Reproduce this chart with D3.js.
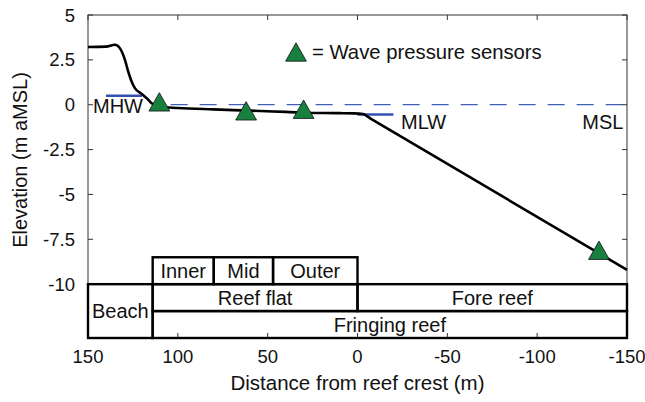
<!DOCTYPE html>
<html lang="en">
<head>
<meta charset="utf-8">
<title>Reef profile</title>
<script src="https://d3js.org/d3.v7.min.js"></script>
<style>
  body { margin: 0; background: #fff; }
  svg text { font-family: "Liberation Sans", Arial, Helvetica, sans-serif; fill: #111; }
</style>
</head>
<body>
<div id="chart"></div>
<script>
// profile (distance from reef crest in m, elevation in m aMSL)
var profileDist = [150, 140, 135, 132.2, 129.4, 127.6, 125.7, 123.8, 120.1, 117.3, 114.6, 110, 100, 80.4, 60, 40, 24.8, 10, 2, -3, -8, -150]
var profileElev = [3.22, 3.24, 3.34, 3.14, 2.49, 1.84, 1.28, 0.91, 0.60, 0.36, 0.08, -0.11, -0.18, -0.26, -0.33, -0.40, -0.46, -0.47, -0.48, -0.52, -0.82, -9.2]

// wave pressure sensors
var sensorDist = [110.3, 62, 30, -134.4]
var sensorElev = [0.16, -0.34, -0.25, -8.11]

// tidal levels
var mhw = {from: 140, to: 120, level: 0.5}
var mlw = {from: 0, to: -20, level: -0.55}
var mslFrom = 104

// zone boxes: [from, to, bottom, top, label]
var zoneFrom  = [114, 80, 47, 150, 114, 0, 114]
var zoneTo    = [80, 47, 0, 114, 0, -150, -150]
var zoneLow   = [-10, -10, -10, -13, -11.5, -11.5, -13]
var zoneHigh  = [-8.5, -8.5, -8.5, -10, -10, -10, -11.5]
var zoneNames = ["Inner", "Mid", "Outer", "Beach", "Reef flat", "Fore reef", "Fringing reef"]

var xTicks = [150, 100, 50, 0, -50, -100, -150]
var yTicks = [5, 2.5, 0, -2.5, -5, -7.5, -10]

var width = 645, height = 402
var svg = d3.select("#chart").append("svg")
    .attr("width", width)
    .attr("height", height)

var x = d3.scaleLinear().domain([150, -150]).range([88, 627])
var y = d3.scaleLinear().domain([-13, 5]).range([338, 15])

// dashed MSL line
svg.append("line")
    .attr("x1", x(mslFrom)).attr("x2", x(-150))
    .attr("y1", y(0)).attr("y2", y(0))
    .attr("stroke", "#3f5fb8").attr("stroke-width", 1.3)
    .attr("stroke-dasharray", "17,12")

// MHW / MLW bars
;[mhw, mlw].forEach(function(t) {
  svg.append("line")
    .attr("x1", x(t.from)).attr("x2", x(t.to))
    .attr("y1", y(t.level)).attr("y2", y(t.level))
    .attr("stroke", "#3550b0").attr("stroke-width", 2.5)
})

// axes box
var ax = svg.append("g").attr("stroke", "#333").attr("stroke-width", 1)
ax.append("rect")
    .attr("x", x(150)).attr("y", y(5))
    .attr("width", x(-150) - x(150)).attr("height", y(-13) - y(5))
    .attr("fill", "none")

var tl = 5
xTicks.forEach(function(t) {
  ax.append("line").attr("x1", x(t)).attr("x2", x(t)).attr("y1", y(5)).attr("y2", y(5) + tl)
  ax.append("line").attr("x1", x(t)).attr("x2", x(t)).attr("y1", y(-13)).attr("y2", y(-13) - tl)
  svg.append("text")
    .attr("x", x(t)).attr("y", 362.5)
    .attr("text-anchor", "middle")
    .style("font-size", "18.5px")
    .text(t)
})
yTicks.forEach(function(t) {
  ax.append("line").attr("x1", x(150)).attr("x2", x(150) + tl).attr("y1", y(t)).attr("y2", y(t))
  ax.append("line").attr("x1", x(-150)).attr("x2", x(-150) - tl).attr("y1", y(t)).attr("y2", y(t))
  svg.append("text")
    .attr("x", 75).attr("y", y(t) + 6.6)
    .attr("text-anchor", "end")
    .style("font-size", "18.5px")
    .text(t)
})

// profile
var line = d3.line()
    .x(function(d, i) { return x(profileDist[i]) })
    .y(function(d, i) { return y(profileElev[i]) })
    .curve(d3.curveMonotoneX)
svg.append("path")
    .attr("d", line(profileDist))
    .attr("fill", "none")
    .attr("stroke", "#000")
    .attr("stroke-width", 2.6)

// zone boxes
var zones = svg.append("g")
zoneNames.forEach(function(name, i) {
  var x0 = x(zoneFrom[i]), x1 = x(zoneTo[i])
  var y0 = y(zoneHigh[i]), y1 = y(zoneLow[i])
  zones.append("rect")
    .attr("x", x0).attr("y", y0)
    .attr("width", x1 - x0).attr("height", y1 - y0)
    .attr("fill", "none").attr("stroke", "#000").attr("stroke-width", 2.4)
  zones.append("text")
    .attr("x", (x0 + x1) / 2).attr("y", (y0 + y1) / 2 + 7.2)
    .attr("text-anchor", "middle")
    .style("font-size", "20px")
    .text(name)
})

// sensor triangles
function tri(cx, cy) {
  return "M" + cx + "," + (cy - 9.2) + "L" + (cx + 10.4) + "," + (cy + 9.2) + "L" + (cx - 10.4) + "," + (cy + 9.2) + "Z"
}
sensorDist.forEach(function(d, i) {
  svg.append("path")
    .attr("d", tri(x(d), y(sensorElev[i])))
    .attr("fill", "#17803e").attr("stroke", "#111").attr("stroke-width", 0.8)
})

// legend
svg.append("path")
    .attr("d", tri(296, 52))
    .attr("fill", "#17803e").attr("stroke", "#111").attr("stroke-width", 0.8)
svg.append("text")
    .attr("x", 312).attr("y", 59.3)
    .style("font-size", "20.3px")
    .text("= Wave pressure sensors")

// level labels
svg.append("text").attr("x", x(147.2)).attr("y", 113.3).style("font-size", "20px").text("MHW")
svg.append("text").attr("x", x(-24.2)).attr("y", 129).style("font-size", "20px").text("MLW")
svg.append("text").attr("x", x(-125.1)).attr("y", 129).style("font-size", "20px").text("MSL")

// axis titles
svg.append("text")
    .attr("x", (x(150) + x(-150)) / 2).attr("y", 390)
    .attr("text-anchor", "middle")
    .style("font-size", "20.5px")
    .text("Distance from reef crest (m)")
svg.append("text")
    .attr("transform", "translate(27,160) rotate(-90)")
    .attr("text-anchor", "middle")
    .style("font-size", "20px")
    .text("Elevation (m aMSL)")
</script>
</body>
</html>
